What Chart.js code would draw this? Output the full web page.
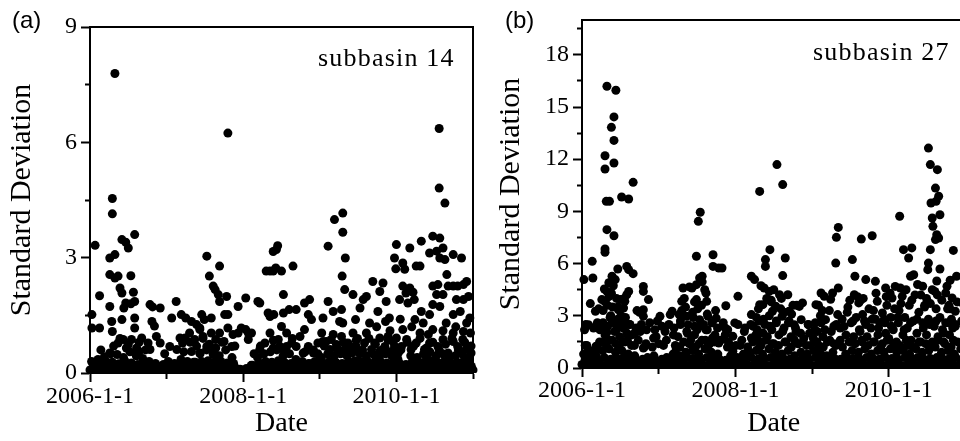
<!DOCTYPE html>
<html>
<head>
<meta charset="utf-8">
<script src="https://cdn.jsdelivr.net/npm/chart.js@4.4.1/dist/chart.umd.min.js"></script>
<style>
  html, body { margin: 0; padding: 0; background: #fff; overflow: hidden; }
  #page { position: relative; width: 960px; height: 441px; overflow: hidden; }
  canvas { position: absolute; top: 0; }
  #chart-a { left: 0; }
  #chart-b { left: 480px; }
  .tag { position: absolute; font-family: "Liberation Sans", Arial, sans-serif; font-size: 24px; line-height: 24px; color: #000; }
  .name { position: absolute; font-family: "Liberation Serif", "Times New Roman", serif; font-size: 26px; line-height: 26px; letter-spacing: 1.2px; color: #000; white-space: nowrap; }
</style>
</head>
<body>
<div id="page">
  <canvas id="chart-a" width="480" height="441"></canvas>
  <canvas id="chart-b" width="490" height="441"></canvas>
  <div class="tag" style="left:12px; top:8px;">(a)</div>
  <div class="tag" style="left:505px; top:8px;">(b)</div>
  <div class="name" style="left:318px; top:45px;">subbasin 14</div>
  <div class="name" style="left:813px; top:39px;">subbasin 27</div>
</div>
<script>
// x is months since 2006-1-1
const tickMonths = [0, 24, 48];
const tickLabels = ['2006-1-1', '2008-1-1', '2010-1-1'];

// subbasin 14: dense band near zero, one value per month (+ offset)
const lowA = [0.08, 0.1, 0.06, 0.09, 0.07, 0.1, 0.08, 0.06, 0.09, 0.07, 0.08, 0.1, 0.06, 0.08, 0.09, 0.07, 0.1, 0.08, 0.06, 0.09,
  0.07, 0.08, 0.1, 0.05, 0.04, 0.07, 0.09, 0.08, 0.1, 0.07, 0.06, 0.09, 0.08, 0.1, 0.07, 0.08, 0.06, 0.09, 0.1, 0.07,
  0.08, 0.09, 0.06, 0.1, 0.08, 0.07, 0.09, 0.08, 0.1, 0.06, 0.08, 0.09, 0.07, 0.1, 0.08, 0.06, 0.09, 0.08, 0.07, 0.1, 0.08];
const lowA2 = [0.22, 0.25, 0.3, 0.28, 0.24, 0.3, 0.26, 0.22, 0.27, 0.2, 0.18, 0.22, 0.25, 0.2, 0.24, 0.22, 0.28, 0.3, 0.32, 0.28,
  0.3, 0.26, 0.25, 0.1, 0.12, 0.2, 0.26, 0.3, 0.28, 0.32, 0.27, 0.25, 0.22, 0.2, 0.24, 0.22, 0.26, 0.3, 0.28, 0.25,
  0.3, 0.32, 0.28, 0.3, 0.27, 0.3, 0.26, 0.28, 0.25, 0.22, 0.3, 0.28, 0.3, 0.32, 0.27, 0.3, 0.26, 0.28, 0.3, 0.25];
const lowA3 = [0.15, 0.18, 0.14, 0.2, 0.16, 0.19, 0.15, 0.17, 0.2, 0.14, 0.16, 0.18, 0.15, 0.19, 0.16, 0.14, 0.18, 0.2, 0.16, 0.19,
  0.15, 0.17, 0.14, 0.08, 0.09, 0.15, 0.18, 0.2, 0.16, 0.19, 0.15, 0.17, 0.14, 0.18, 0.16, 0.15, 0.19, 0.17, 0.2, 0.16,
  0.18, 0.15, 0.2, 0.17, 0.19, 0.16, 0.18, 0.15, 0.2, 0.16, 0.19, 0.17, 0.15, 0.2, 0.18, 0.16, 0.19, 0.15, 0.18, 0.17];
const midA = [0.3, 0.35, 0.42, 0.5, 0.48, 0.4, 0.55, 0.45, 0.38, 0.3, 0.25, null, 0.3, 0.25, 0.35, 0.3, 0.28, 0.5, 0.6, 0.55,
  0.45, 0.6, 0.4, null, null, 0.2, 0.4, 0.5, 0.55, 0.6, 0.45, 0.5, 0.35, 0.3, 0.25, 0.3, 0.4, 0.5, 0.45, 0.5,
  0.45, 0.55, 0.5, 0.45, 0.5, 0.4, 0.5, 0.45, 0.35, null, 0.45, 0.4, 0.5, 0.55, 0.45, 0.5, 0.4, 0.45, 0.5, 0.4];
const midA2 = [null, 0.6, null, 0.7, 0.9, 0.65, null, 0.8, 0.6, null, null, 0.5, null, null, 0.55, 0.8, 0.7, 0.9, 0.75, 0.65,
  0.8, null, 0.7, null, null, 0.5, 0.7, null, 0.85, 0.7, 0.6, 0.9, null, 0.55, null, 0.5, 0.7, null, 0.65, 0.8,
  0.7, 0.85, 0.6, 0.9, 0.75, 0.6, 0.85, 0.7, 0.6, 0.8, 0.7, 0.9, 0.65, 0.8, 0.6, 0.75, 0.9, 0.6, 0.8, 0.7];
// subbasin 14: scattered days [month, std]
const scatterA = [
  [3.9, 7.79], [21.6, 6.24], [54.7, 6.36], [54.7, 4.81], [55.6, 4.42], [3.5, 4.54], [3.5, 4.14], [0.8, 3.32], [7.0, 3.6],
  [3.1, 2.99], [3.9, 3.08], [5.0, 3.47], [5.6, 3.4], [6.0, 3.25], [3.1, 2.56], [3.9, 2.47], [4.4, 2.52], [6.4, 2.53],
  [1.5, 2.01], [4.7, 2.21], [5.0, 2.08], [6.8, 2.1], [7.0, 1.86], [3.1, 1.73], [5.6, 1.82], [5.3, 1.69], [6.4, 1.8],
  [0.3, 1.52], [0.3, 1.17], [1.5, 1.17], [3.4, 1.34], [3.5, 1.08], [5.0, 1.39], [7.0, 1.43], [7.0, 1.17], [9.4, 1.78],
  [9.8, 1.72], [11.0, 1.69], [9.7, 1.34], [10.1, 1.22], [9.4, 0.61], [11.0, 0.78], [12.8, 1.43], [13.5, 1.86], [14.3, 1.52],
  [15.0, 1.43], [14.1, 0.91], [14.9, 0.91], [15.9, 1.34], [16.7, 1.26], [17.2, 1.17], [17.5, 1.52], [17.9, 1.39], [18.3, 3.04],
  [18.7, 2.52], [19.3, 2.26], [19.6, 2.17], [20.1, 2.04], [20.3, 1.86], [20.3, 2.78], [19.0, 1.43], [21.4, 1.99], [21.6, 1.52],
  [21.1, 1.52], [23.2, 1.73], [24.4, 1.95], [23.2, 1.04], [24.4, 1.13], [24.8, 1.04], [26.3, 1.86], [26.6, 1.82], [27.6, 2.65],
  [28.2, 2.65], [28.7, 2.65], [29.2, 3.21], [29.4, 3.31], [28.7, 3.16], [29.1, 2.73], [30.0, 2.65], [27.9, 1.56], [28.2, 1.47],
  [28.8, 1.52], [30.3, 2.04], [30.3, 1.56], [31.8, 2.78], [31.2, 1.65], [32.3, 1.65], [30.8, 0.69], [33.6, 1.82], [34.4, 1.91],
  [34.2, 1.52], [34.7, 1.39], [33.6, 1.13], [33.4, 0.52], [35.0, 0.6], [36.5, 1.43], [37.3, 3.3], [37.3, 1.86], [36.5, 0.82],
  [37.0, 0.82], [38.3, 3.99], [39.6, 4.16], [39.6, 3.66], [40.0, 2.99], [39.5, 2.52], [39.9, 2.17], [38.1, 1.6], [39.4, 1.65],
  [39.1, 1.34], [39.6, 1.3], [38.1, 1.0], [37.8, 0.87], [38.9, 0.56], [41.2, 2.04], [42.3, 1.69], [41.6, 1.39], [41.2, 1.04],
  [42.8, 1.91], [43.3, 1.99], [44.3, 2.38], [45.9, 2.34], [45.4, 2.12], [45.4, 0.91], [45.1, 1.6], [46.4, 1.86], [46.3, 1.34],
  [46.9, 1.43], [47.7, 2.99], [47.9, 2.71], [48.0, 3.34], [49.0, 2.86], [49.3, 2.7], [50.1, 3.25], [51.9, 3.43], [49.0, 2.26],
  [49.5, 2.08], [50.1, 2.21], [50.6, 2.1], [51.1, 2.78], [51.7, 2.78], [48.5, 1.91], [49.8, 1.82], [50.8, 1.91], [50.9, 1.39],
  [51.9, 1.6], [49.0, 1.13], [48.0, 0.91], [53.2, 3.12], [53.7, 3.56], [54.8, 3.51], [54.3, 3.17], [55.3, 3.25], [54.8, 2.99],
  [55.6, 2.95], [55.9, 2.56], [56.9, 3.08], [58.2, 2.99], [53.7, 2.26], [54.5, 2.3], [56.1, 2.26], [56.9, 2.26], [57.6, 2.26],
  [58.5, 2.3], [59.0, 2.38], [54.3, 2.04], [55.3, 2.04], [57.4, 1.91], [58.5, 1.91], [59.3, 1.99], [53.7, 1.78], [54.8, 1.73],
  [53.2, 1.52], [59.5, 1.43], [56.9, 1.52], [58.5, 1.08], [56.9, 0.82], [55.3, 1.1],
  [3.1, 0.52], [4.4, 0.78], [5.2, 0.87], [6.0, 0.74], [6.5, 0.87], [7.3, 0.65], [7.7, 0.56], [8.1, 0.91], [9.1, 0.78],
  [10.4, 0.95], [12.5, 0.69], [13.6, 0.61], [14.5, 0.78], [15.6, 1.04], [16.4, 0.87], [17.2, 1.13], [17.7, 0.95], [18.3, 0.69],
  [19.0, 1.04], [19.7, 0.87], [20.3, 1.04], [21.0, 0.82], [21.6, 1.17], [22.2, 0.69], [22.4, 1.0], [15.9, 0.56], [17.2, 0.52],
  [19.3, 0.48], [23.7, 1.17], [24.8, 0.87], [25.3, 1.04], [26.6, 0.61], [27.4, 0.78], [28.2, 1.04], [28.7, 0.65], [29.5, 0.87],
  [30.0, 1.21], [30.3, 0.61], [30.8, 1.04], [31.6, 0.78], [32.3, 0.69], [32.9, 0.95], [34.2, 0.69], [35.0, 0.52], [35.7, 0.78],
  [36.3, 1.04], [37.6, 0.61], [38.6, 0.74], [39.4, 0.95], [39.9, 0.61], [40.4, 0.78], [41.0, 0.52], [41.7, 0.69], [42.5, 0.52],
  [43.0, 0.78], [43.3, 1.04], [44.1, 0.61], [44.6, 0.78], [45.4, 0.56], [46.2, 0.69], [46.7, 0.95], [47.2, 0.56], [47.5, 0.82],
  [48.3, 0.52], [48.8, 0.69], [49.6, 0.87], [50.3, 0.61], [51.1, 0.78], [51.7, 1.04], [52.4, 0.61], [53.2, 0.78], [53.7, 1.13],
  [54.5, 0.69], [55.3, 0.87], [56.1, 0.52], [56.9, 1.04], [57.6, 0.69], [58.4, 0.87], [58.9, 0.61], [59.6, 1.04], [59.7, 0.52],
  [41.9, 0.9], [43.8, 1.3], [44.9, 1.2], [47.0, 1.1], [48.6, 1.4], [50.4, 1.2], [52.2, 1.3], [53.0, 1.0], [55.8, 1.3],
  [57.3, 1.2], [58.0, 1.6], [59.0, 1.3], [42.0, 0.3], [52.8, 0.45], [44.8, 0.4]
];

// subbasin 27: dense band near zero
const lowB = [0.2, 0.15, 0.22, 0.18, 0.2, 0.16, 0.22, 0.19, 0.15, 0.2, 0.18, 0.22, 0.16, 0.2, 0.19, 0.15, 0.21, 0.18, 0.2, 0.16,
  0.22, 0.19, 0.15, 0.2, 0.18, 0.22, 0.16, 0.2, 0.19, 0.15, 0.21, 0.18, 0.2, 0.16, 0.22, 0.19, 0.15, 0.2, 0.18, 0.22,
  0.16, 0.2, 0.19, 0.15, 0.21, 0.18, 0.2, 0.16, 0.22, 0.19, 0.15, 0.2, 0.18, 0.22, 0.16, 0.2, 0.19, 0.15, 0.21, 0.18, 0.2];
const lowB2 = [0.5, 0.55, 0.45, 0.6, 0.5, 0.55, 0.6, 0.5, 0.45, 0.5, 0.4, 0.45, 0.5, 0.45, 0.55, 0.5, 0.6, 0.55, 0.5, 0.6,
  0.55, 0.5, 0.45, 0.5, 0.45, 0.55, 0.6, 0.5, 0.55, 0.6, 0.5, 0.55, 0.5, 0.45, 0.55, 0.5, 0.6, 0.55, 0.5, 0.55,
  0.5, 0.6, 0.55, 0.5, 0.6, 0.55, 0.5, 0.6, 0.55, 0.5, 0.6, 0.55, 0.6, 0.5, 0.55, 0.6, 0.5, 0.55, 0.6, 0.5];
const midB = [0.8, 0.9, 0.7, 1.0, 1.1, 0.9, 1.0, 0.8, 0.7, null, 0.6, 0.7, null, 0.6, 0.8, 0.7, 0.9, 1.0, 0.8, 1.1,
  0.9, 0.8, null, 0.7, 0.6, 0.8, 0.9, 1.0, 0.8, 1.1, 0.9, 0.8, 1.0, 0.7, 0.9, 0.8, 1.0, 0.9, 0.7, 0.9,
  null, 0.8, 1.0, 0.9, 1.1, 0.8, 1.0, 0.9, 1.1, 0.9, 1.0, 0.8, 1.1, 0.9, 1.0, 1.2, 0.9, 1.0, 0.8, 1.1];
const upB = [1.3, null, 1.5, 1.4, 1.6, 1.2, 1.5, 1.3, null, 1.2, null, null, 1.3, null, 1.1, null, 1.4, 1.2, 1.6, 1.3,
  1.5, null, 1.2, null, 1.3, null, 1.5, 1.2, 1.6, 1.4, 1.3, 1.5, 1.2, 1.4, null, 1.3, 1.5, 1.2, 1.6, 1.3,
  1.2, null, 1.4, 1.6, 1.3, 1.5, 1.2, 1.6, 1.4, 1.3, 1.6, 1.2, 1.5, 1.4, 1.3, 1.6, 1.4, 1.2, 1.5, 1.3];
const upB2 = [2.2, null, 2.6, 2.4, 2.9, 2.2, 2.7, 2.5, 2.1, null, null, 2.2, null, null, 2.3, 2.7, 2.1, 2.9, 2.4, 2.2,
  2.6, null, 2.3, null, null, 2.1, 2.5, 2.2, 2.8, 2.4, 2.6, 2.1, 2.7, 2.3, null, 2.5, 2.2, 2.6, null, 2.4,
  2.3, null, 2.7, 2.2, 2.5, 2.8, 2.3, 2.6, 2.4, 2.9, 2.2, 2.6, 2.8, 2.3, 2.5, 2.7, 2.2, 2.6, 2.4, 2.7];
const upB3 = [null, null, 3.4, 3.8, null, 3.5, 4.0, null, 3.3, null, null, null, null, null, null, 3.3, null, 3.8, null, 3.1,
  null, null, null, null, null, null, null, 3.4, null, 3.8, null, 3.2, null, 3.6, null, null, null, 3.3, null, null,
  null, 3.5, null, 3.9, null, 3.3, null, 4.1, null, 3.3, null, 3.9, null, 3.6, null, 4.2, null, 3.4, null, 3.7];
// subbasin 27: scattered days [month, std]
const scatterB = [
  [3.9, 16.19], [5.3, 15.96], [5.0, 14.43], [4.6, 13.83], [5.0, 13.08], [3.6, 12.2], [3.6, 11.44], [5.0, 11.78], [8.0, 10.67],
  [6.2, 9.83], [7.3, 9.71], [3.8, 9.58], [4.3, 9.58], [3.9, 7.95], [5.0, 7.6], [3.6, 6.84], [3.6, 6.65], [1.6, 6.13],
  [1.7, 5.17], [0.3, 5.08], [7.0, 5.84], [7.3, 5.65], [5.6, 5.69], [8.0, 5.42], [4.7, 5.27], [5.2, 5.08], [4.2, 4.9],
  [4.9, 4.73], [3.5, 4.54], [3.9, 4.4], [3.1, 3.93], [1.3, 3.7], [2.1, 3.26], [7.0, 4.21], [7.3, 4.4], [6.7, 3.83],
  [6.0, 3.93], [5.7, 3.35], [6.5, 3.45], [9.6, 4.69], [9.6, 4.4], [10.4, 3.93], [9.6, 3.35], [9.6, 2.97], [1.0, 2.49],
  [1.8, 2.3], [3.0, 2.3], [3.3, 2.6], [3.9, 2.05], [4.7, 2.59], [5.5, 2.5], [6.5, 2.3], [7.0, 2.01], [8.3, 2.01],
  [9.1, 2.1], [10.1, 2.2], [11.2, 1.72], [12.2, 2.97], [13.0, 2.1], [13.8, 3.07], [14.1, 3.26], [1.0, 1.05], [2.2, 1.25],
  [9.6, 1.15], [15.2, 3.07], [15.6, 3.83], [15.8, 4.6], [16.8, 4.66], [16.3, 2.97], [16.6, 2.49], [17.9, 6.42], [18.2, 8.43],
  [18.5, 8.95], [17.9, 4.79], [18.4, 5.17], [18.8, 5.27], [18.8, 4.95], [19.2, 4.5], [19.4, 4.3], [19.5, 3.83], [17.9, 3.93],
  [19.7, 2.97], [18.4, 2.78], [17.6, 2.4], [20.5, 6.51], [20.5, 5.84], [21.4, 5.75], [21.9, 5.75], [21.0, 2.87], [22.5, 3.58],
  [20.4, 1.72], [21.4, 1.44], [22.9, 1.5], [24.4, 4.12], [23.9, 2.59], [24.4, 2.5], [23.6, 1.82], [24.1, 1.3], [23.6, 0.96],
  [26.5, 5.27], [27.0, 5.08], [27.8, 10.15], [28.0, 4.73], [28.5, 4.6], [28.7, 6.23], [28.7, 5.84], [29.4, 6.8], [30.5, 11.69],
  [31.4, 10.54], [31.8, 6.32], [31.4, 5.31], [30.9, 4.21], [32.2, 4.21], [29.3, 4.4], [28.9, 4.0], [27.8, 3.64], [28.3, 3.64],
  [26.5, 3.07], [26.5, 1.72], [27.5, 1.63], [28.3, 2.01], [29.8, 3.26], [30.3, 3.55], [31.3, 2.97], [32.4, 3.26], [33.2, 2.49],
  [34.0, 3.54], [34.5, 3.74], [34.3, 2.78], [35.4, 2.49], [33.2, 1.63], [36.6, 3.64], [37.4, 4.31], [37.9, 4.12], [38.1, 2.78],
  [36.8, 2.1], [39.2, 4.31], [38.9, 3.95], [39.7, 6.03], [39.8, 7.51], [40.1, 8.08], [40.1, 4.6], [40.0, 3.07], [41.0, 2.39],
  [41.3, 1.9], [42.3, 6.23], [42.7, 5.27], [42.6, 4.21], [43.1, 4.1], [43.3, 3.74], [43.9, 3.07], [43.7, 7.41], [44.4, 5.08],
  [45.9, 4.98], [45.4, 7.6], [46.2, 3.83], [42.3, 1.53], [47.0, 3.16], [47.5, 2.0], [48.5, 4.02], [49.0, 4.69], [49.7, 8.72],
  [50.3, 6.8], [51.1, 6.32], [51.6, 6.9], [51.4, 5.27], [51.9, 5.36], [50.1, 4.12], [49.8, 4.6], [54.2, 12.64], [54.5, 11.69],
  [55.6, 11.4], [55.3, 10.34], [54.6, 9.48], [55.4, 9.58], [55.8, 9.87], [54.8, 8.62], [54.9, 8.14], [56.0, 8.81], [55.5, 7.66],
  [55.8, 7.47], [55.3, 7.38], [54.5, 6.8], [54.2, 6.03], [54.1, 5.65], [56.0, 5.69], [58.1, 6.76], [57.6, 5.04], [58.6, 5.27],
  [55.5, 5.0], [54.8, 4.5], [53.3, 4.7], [53.9, 4.0], [56.9, 4.31], [57.9, 4.02], [57.4, 3.6], [58.4, 3.26], [56.6, 2.01],
  [58.0, 2.3],
  [0.5, 1.3], [1.5, 0.95], [2.5, 1.1], [2.8, 2.2], [2.2, 2.4], [0.6, 2.5],
  [3.2, 1.5], [3.6, 1.9], [4.0, 2.4], [4.4, 1.6], [4.5, 3.0], [4.8, 3.5], [5.1, 2.1], [5.3, 1.4], [5.6, 2.8], [5.9, 1.8],
  [6.2, 2.6], [6.4, 1.5], [6.8, 2.9], [7.1, 1.6], [7.5, 2.5], [7.8, 1.9], [8.2, 1.3], [8.5, 2.3], [4.2, 4.1], [4.6, 4.3],
  [5.4, 4.0], [6.1, 3.0], [3.3, 3.3], [4.0, 3.6],
  [8.8, 1.6], [9.3, 2.5], [10.0, 1.4], [10.6, 2.6], [11.0, 1.2], [11.6, 1.8], [12.0, 1.4], [12.5, 2.4], [13.2, 1.6], [13.6, 2.5],
  [14.3, 1.9], [14.6, 1.3], [11.8, 2.7], [9.0, 3.2],
  [15.0, 1.8], [15.4, 2.5], [15.9, 1.5], [16.2, 3.5], [16.5, 2.0], [17.0, 1.6], [17.3, 3.2], [17.6, 1.9], [18.0, 2.2], [18.3, 1.4],
  [18.7, 3.6], [19.0, 2.5], [19.3, 1.6], [19.6, 2.2], [20.0, 1.4], [20.3, 2.6], [20.8, 1.9], [21.2, 2.3], [21.7, 1.6], [22.1, 2.6],
  [22.4, 1.9], [16.0, 4.0], [17.2, 4.6], [18.1, 3.4], [15.3, 1.2], [20.9, 3.3],
  [22.8, 2.2], [23.2, 1.3], [25.0, 1.6], [25.5, 2.3], [25.9, 1.2],
  [26.8, 2.4], [27.2, 1.9], [27.7, 2.7], [28.0, 1.3], [28.6, 2.5], [29.0, 1.8], [29.3, 3.0], [29.7, 2.2], [30.0, 1.4], [30.4, 2.7],
  [30.8, 1.9], [31.1, 3.4], [31.6, 2.3], [31.9, 1.5], [32.3, 2.6], [32.7, 1.8], [33.0, 3.6], [33.5, 2.1], [33.9, 1.4], [34.2, 2.0],
  [34.7, 1.7], [35.1, 1.3], [35.6, 2.0], [29.6, 3.9], [30.0, 4.5], [31.2, 4.0], [32.8, 3.1], [27.3, 2.9],
  [36.2, 1.7], [36.5, 2.6], [37.0, 1.3], [37.3, 3.0], [37.7, 1.8], [38.0, 2.2], [38.4, 1.5], [38.7, 3.3], [39.0, 2.1], [39.4, 1.4],
  [39.8, 2.5], [37.0, 3.6],
  [40.4, 1.6], [40.7, 2.8], [41.5, 3.2], [41.8, 1.5], [42.1, 2.6], [42.5, 1.8], [42.9, 2.9], [43.5, 2.1], [43.8, 1.5], [44.2, 2.7],
  [44.6, 1.8], [44.9, 3.4], [45.2, 2.3], [45.6, 1.5], [45.9, 2.8], [46.3, 1.9], [46.6, 2.6], [47.0, 1.4], [47.3, 2.8], [46.0, 4.3],
  [44.0, 4.0], [41.9, 3.9],
  [47.7, 3.6], [48.0, 1.7], [48.3, 2.9], [48.7, 2.2], [48.9, 3.4], [49.2, 1.5], [49.5, 2.6], [49.9, 3.7], [50.2, 1.9], [50.5, 2.9],
  [50.9, 2.3], [51.2, 3.6], [51.5, 1.6], [51.8, 2.7], [52.1, 4.2], [52.4, 2.0], [52.7, 3.2], [53.0, 1.5], [53.3, 2.6], [53.6, 3.5],
  [53.9, 1.9], [54.2, 2.8], [54.5, 3.7], [54.8, 1.5], [55.1, 2.4], [55.4, 3.4], [55.7, 1.8], [56.0, 2.9], [56.3, 3.9], [56.6, 1.5],
  [56.9, 2.6], [57.2, 3.4], [57.5, 1.9], [57.8, 2.8], [58.1, 1.6], [58.4, 2.5], [58.7, 3.8], [52.5, 4.8], [50.7, 4.5], [53.0, 4.2],
  [55.2, 4.4], [57.1, 4.7], [51.0, 1.3], [49.0, 1.2], [47.5, 4.6], [48.2, 4.3]
];

const SERIF = '"Liberation Serif", "Times New Roman", serif';

function rowPoints(values, offset) {
  return values.flatMap((v, i) => (v === null ? [] : [{ x: i + offset, y: v }]));
}

function pairPoints(pairs) {
  return pairs.map(([x, y]) => ({ x, y }));
}

function isMultiple(value, step) {
  return Math.abs(value / step - Math.round(value / step)) < 1e-6;
}

// draws the top and right edges of the box
const frame = {
  id: 'frame',
  afterDatasetsDraw(chart) {
    const { ctx, chartArea: a } = chart;
    ctx.save();
    ctx.strokeStyle = '#000';
    ctx.lineWidth = 2;
    ctx.beginPath();
    ctx.moveTo(a.left, a.top);
    ctx.lineTo(a.right, a.top);
    ctx.lineTo(a.right, a.bottom);
    ctx.stroke();
    ctx.restore();
  }
};

/**
 * @param {string} id
 * @param {{x:number,y:number}[]} points
 * @param {object} o layout numbers for one panel
 */
function makeChart(id, points, o) {
  return new Chart(document.getElementById(id), {
    type: 'scatter',
    data: {
      datasets: [{
        data: points,
        backgroundColor: '#000',
        borderWidth: 0,
        pointRadius: 4.5,
        pointHoverRadius: 4.5,
        clip: { left: 6, top: 6, right: 6, bottom: 0 }
      }]
    },
    options: {
      responsive: false,
      animation: false,
      events: [],
      layout: { padding: { top: o.top, right: o.right, left: 0, bottom: 0 } },
      plugins: { legend: { display: false }, tooltip: { enabled: false } },
      scales: {
        x: {
          type: 'linear',
          min: 0,
          max: 60,
          afterFit: scale => { scale.height = o.xHeight; },
          ticks: {
            stepSize: 12,
            autoSkip: false,
            maxRotation: 0,
            minRotation: 0,
            padding: o.xTickPad,
            color: '#000',
            font: { family: SERIF, size: 24, lineHeight: 1.2 },
            callback: value => {
              const i = tickMonths.indexOf(value);
              return i < 0 ? '' : tickLabels[i];
            }
          },
          grid: {
            drawOnChartArea: false,
            drawTicks: true,
            tickLength: 9,
            tickWidth: 2,
            tickColor: '#000',
            tickBorderDash: ctx => (ctx.tick && !isMultiple(ctx.tick.value, 24) ? [5, 30] : [])
          },
          border: { display: true, color: '#000', width: 2 },
          title: {
            display: true,
            text: 'Date',
            color: '#000',
            font: { family: SERIF, size: 28, lineHeight: 1.2 },
            padding: { top: 0, bottom: o.xTitlePad }
          }
        },
        y: {
          min: 0,
          max: o.yMax,
          afterFit: scale => { scale.width = o.yWidth; },
          ticks: {
            stepSize: 1.5,
            includeBounds: false,
            autoSkip: false,
            padding: 4,
            color: '#000',
            font: { family: SERIF, size: 24, lineHeight: 1.2 },
            callback: value => (isMultiple(value, 3) ? String(value) : '')
          },
          grid: {
            drawOnChartArea: false,
            drawTicks: true,
            tickLength: 9,
            tickWidth: 2,
            tickColor: '#000',
            tickBorderDash: ctx => (ctx.tick && !isMultiple(ctx.tick.value, 3) ? [0, 4, 30] : [])
          },
          border: { display: true, color: '#000', width: 2 },
          title: {
            display: true,
            text: 'Standard Deviation',
            color: '#000',
            font: { family: SERIF, size: 30, lineHeight: 1.2 },
            padding: { top: o.yTitlePad, bottom: 0 }
          }
        }
      }
    },
    plugins: [frame]
  });
}

const pointsA = [
  ...rowPoints(lowA, 0),
  ...rowPoints(lowA2, 0.5),
  ...rowPoints(lowA3, 0.75),
  ...rowPoints(midA, 0.25),
  ...rowPoints(midA2, 0.7),
  ...pairPoints(scatterA)
];
const pointsB = [
  ...rowPoints(lowB, 0),
  ...rowPoints(lowB2, 0.5),
  ...rowPoints(midB, 0.25),
  ...rowPoints(upB, 0.75),
  ...rowPoints(upB2, 0.4),
  ...rowPoints(upB3, 0.6),
  ...pairPoints(scatterB)
];

makeChart('chart-a', pointsA, {
  top: 27, right: 7, yWidth: 90, xHeight: 68, yMax: 9, xTickPad: 0, xTitlePad: 1, yTitlePad: 4
});
makeChart('chart-b', pointsB, {
  top: 20, right: 3, yWidth: 102, xHeight: 73, yMax: 20, xTickPad: -1, xTitlePad: 1, yTitlePad: 13
});
</script>
</body>
</html>
